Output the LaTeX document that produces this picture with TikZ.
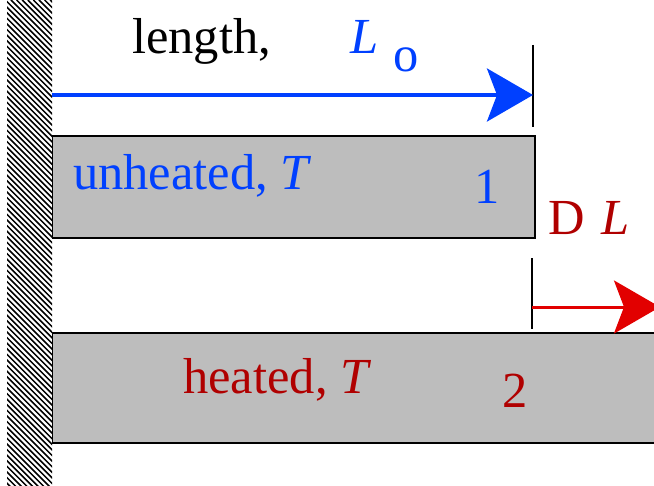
\documentclass[tikz,border=0pt]{standalone}
\usepackage{fontspec}
\setmainfont{Liberation Serif}
\usetikzlibrary{arrows.meta}
\definecolor{myblue}{RGB}{0,64,255}
\definecolor{mydred}{RGB}{176,0,0}
\definecolor{myred}{RGB}{226,0,0}
\definecolor{bargray}{RGB}{189,189,189}
\tikzset{
  lbl/.style={inner sep=0pt, anchor=base west, font=\fontsize{50.5bp}{60bp}\selectfont},
  bar/.style={fill=bargray, draw=black, line width=2.5bp},
  tick/.style={draw=black, line width=2bp},
}
\begin{document}
\begin{tikzpicture}[x=1bp,y=-1bp]
\useasboundingbox (0,0) rectangle (654,486);
% bars
\draw[bar] (52,136) rectangle (535,238);
\draw[bar] (52,333) rectangle (680,443);
% hatched wall
\fill[white] (7,0) rectangle (52,486);
\begin{scope}
\clip (7,0) rectangle (52,486);
\foreach \k in {-500,-494.4,...,60}{
  \draw[line width=1.5bp] (7+\k,0) -- (7+\k+500,500);
}
\end{scope}
% ticks and coordinates
\coordinate (wallA) at (52,95);
\coordinate (tA) at (533,95);
\coordinate (tAtop) at (533,45);
\coordinate (tAbot) at (533,127);
\coordinate (tB) at (532,307);
\coordinate (tBtop) at (532,258);
\coordinate (tBbot) at (532,329);
\coordinate (tBend) at (660,307);
\draw[tick] (tAtop) -- (tAbot);
\draw[tick] (tBtop) -- (tBbot);
\draw[myblue, line width=4bp, -{Stealth[length=46bp,width=53bp,inset=10bp]}] (wallA) -- (tA);
\draw[myred, line width=3bp, -{Stealth[length=46bp,width=53bp,inset=10bp]}] (tB) -- (tBend);
% labels
\node[lbl] (len) at (132,54) {length,};
\node[lbl, text=myblue] (L0) at (350,54) {\itshape L};
\node[lbl, text=myblue] (o0) at (393,72) {o};
\node[lbl, text=myblue] (unh) at (73,190) {unheated, \itshape T};
\node[lbl, text=myblue] (one) at (474,204) {1};
\node[lbl, text=mydred] (D) at (548,235) {D};
\node[lbl, text=mydred] (DL) at (601,235) {\itshape L};
\node[lbl, text=mydred] (hea) at (183,393) {heated, \itshape T};
\node[lbl, text=mydred] (two) at (502,407) {2};
\end{tikzpicture}
\end{document}
